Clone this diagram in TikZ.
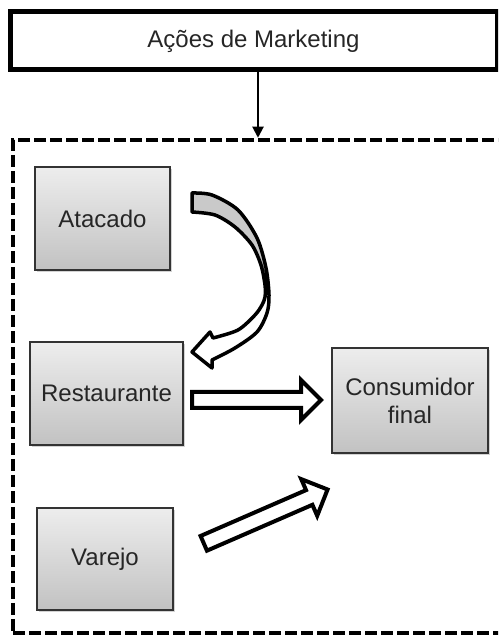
\documentclass[tikz,border=0pt]{standalone}
\usepackage{fontspec}
\setmainfont{Liberation Sans}
\usetikzlibrary{shapes.arrows,shadows,arrows.meta}
\begin{document}
\begin{tikzpicture}[x=1pt,y=1pt,font=\fontsize{24}{28}\selectfont,
  caixa/.style={draw=black!80,line width=1.5pt,top color=gray!14,bottom color=gray!48,
    drop shadow={shadow xshift=2pt,shadow yshift=-2pt,opacity=.35},
    text=black!85,align=center,inner sep=0pt},
  seta/.style={single arrow,draw,line width=4pt,fill=white,minimum width=0pt,
    single arrow head extend=12pt,inner xsep=0pt,inner ysep=6pt}]
 \clip (0,0) rectangle (498,637);
 \node[draw,line width=5pt,fill=white,minimum width=487pt,minimum height=58pt,text=black!85] (mkt) at (253.5,596) {Ações de Marketing};
 \node[draw,dash pattern=on 12pt off 4pt,line width=4.5pt,minimum width=490pt,minimum height=493pt] (quadro) at (258,250.5) {};
 \draw[line width=2pt,-{Triangle[width=11pt,length=11pt]}] (quadro.north |- mkt.south) -- (quadro.north);

 \node[caixa,minimum width=135pt,minimum height=103pt] (ata) at (102.5,418.5) {Atacado};
 \node[caixa,minimum width=153pt,minimum height=103pt] (rest) at (106.5,243.5) {Restaurante};
 \node[caixa,minimum width=156pt,minimum height=105pt] (cons) at (410,236.5) {Consumidor\\final};
 \node[caixa,minimum width=136pt,minimum height=102pt] (var) at (105,78) {Varejo};

 \path[save path=\curva]
   plot[smooth] coordinates {(192,444) (212,442) (238,427) (257,399) (266,369) (269,342) (267,324) (257,305) (235,289) (212,277)}
   -- (212,269) -- (192,285) -- (210,305) -- (213,299)
   -- plot[smooth] coordinates {(213,299) (238,307) (255,322) (262,332) (265,340) (265,352) (261,372) (252,392) (235,410) (215,422) (192,425)} -- cycle;
 \fill[white,use path=\curva];
 \begin{scope}
  \clip (180,355) rectangle (280,450);
  \fill[gray!42,use path=\curva];
 \end{scope}
 \draw[line width=3.5pt,line join=round,use path=\curva];

 \node[seta,minimum height=129pt] (setarest) at (252.5,237) {};
 \node[seta,minimum height=135pt,rotate=23.5] (setavar) at (262,119) {};
\end{tikzpicture}
\end{document}
